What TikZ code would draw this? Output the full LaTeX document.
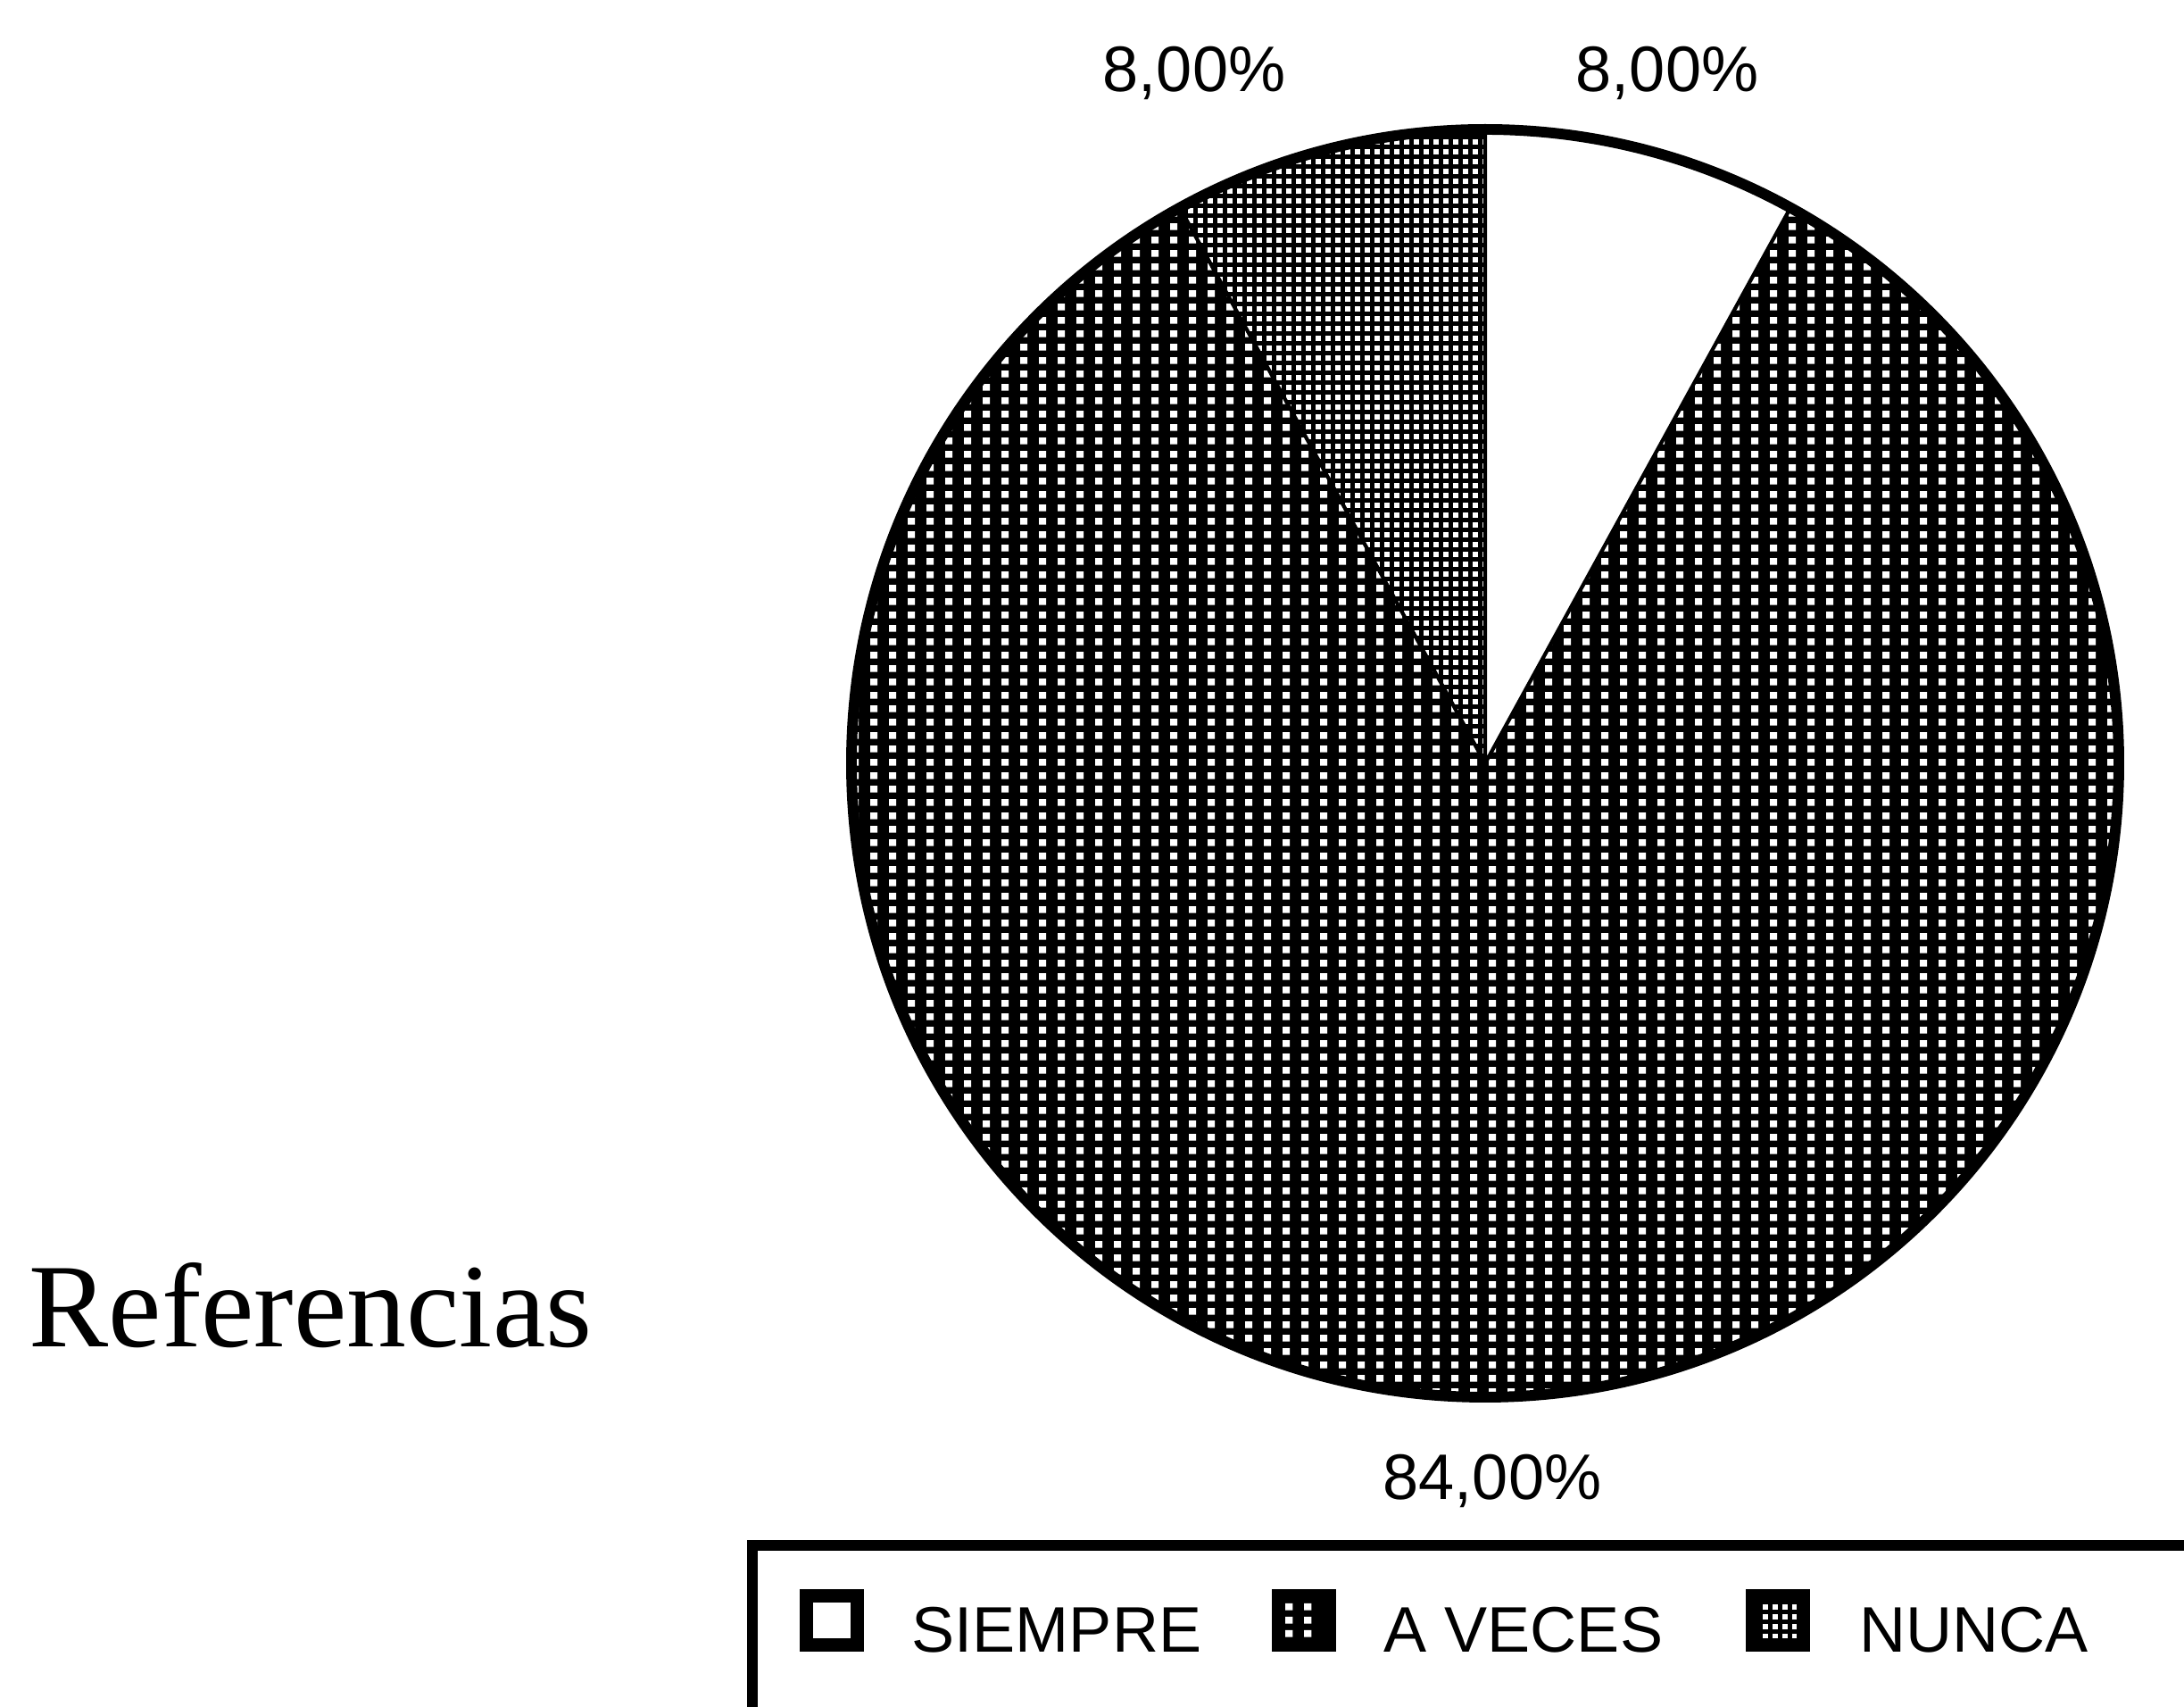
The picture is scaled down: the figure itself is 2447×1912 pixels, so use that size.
\documentclass[tikz,border=0pt]{standalone}
\usepackage{fontspec}
\setmainfont{Liberation Serif}
\newfontfamily\graffont{Liberation Sans}
\usetikzlibrary{patterns}

% Tramas de relleno
\pgfdeclarepatternformonly{puntosveces}{\pgfpointorigin}{\pgfpoint{6pt}{4.3pt}}{\pgfpoint{6pt}{4.3pt}}{%
  \pgfpathrectangle{\pgfpoint{1.8pt}{1pt}}{\pgfpoint{2.4pt}{2.3pt}}\pgfusepath{fill}}
\pgfdeclarepatternformonly{tramanunca}{\pgfpointorigin}{\pgfpoint{3pt}{3pt}}{\pgfpoint{3pt}{3pt}}{%
  \pgfpathrectangle{\pgfpoint{0.6pt}{0.6pt}}{\pgfpoint{1.7pt}{1.7pt}}\pgfusepath{fill}}

\begin{document}
\begin{tikzpicture}[x=0.01cm, y=0.01cm,
    porcentaje/.style={font=\graffont\fontsize{20.5pt}{24pt}\selectfont, inner sep=0pt, anchor=base},
    leyenda/.style={font=\graffont\fontsize{20.5pt}{24pt}\selectfont, inner sep=0pt, anchor=base west},
    simbolo/.style={draw, line width=4.2pt, minimum width=16.2pt, minimum height=15.6pt, inner sep=0pt},
    veces/.style={preaction={fill=black}, pattern=puntosveces, pattern color=white},
    nunca/.style={preaction={fill=black}, pattern=tramanunca, pattern color=white}]

    % Marco de la figura
    \useasboundingbox (0,0) rectangle (2447,1912);

    % Centro del grafico
    \coordinate (c) at (1664,1057);

    % Dibuja las porciones
    \path[veces] (c) -- ++(118.8:710) arc[start angle=118.8, end angle=421.2, radius=710] -- cycle;
    \path[nunca] (c) -- ++(90:710) arc[start angle=90, end angle=118.8, radius=710] -- cycle;
    \fill[white] (c) -- ++(61.2:710) arc[start angle=61.2, end angle=90, radius=710] -- cycle;
    \draw[line width=1.2pt] (c) -- ++(61.2:710) (c) -- ++(90:710) (c) -- ++(118.8:710);
    \draw[line width=3.4pt] (c) circle[radius=710];

    % Etiquetas
    \node[porcentaje] (pnunca) at (1338,1809) {8,00\%};
    \node[porcentaje] (psiempre) at (1868,1809) {8,00\%};
    \node[porcentaje] (pveces) at (1672,232) {84,00\%};
    \node[font=\fontsize{38pt}{44pt}\selectfont, inner sep=0pt, anchor=base west] (referencias) at (32,403) {Referencias};

    % Leyenda
    \draw[line width=3.6pt] (2447,181) -- (843,181) -- (843,0);
    \node[simbolo, fill=white] (ssiempre) at (932,97) {};
    \node[leyenda] (lsiempre) at (1021,61) {SIEMPRE};
    \node[simbolo, veces] (sveces) at (1461,97) {};
    \node[leyenda] (lveces) at (1550,61) {A VECES};
    \node[simbolo, nunca] (snunca) at (1992,97) {};
    \node[leyenda] (lnunca) at (2083,61) {NUNCA};
\end{tikzpicture}
\end{document}
